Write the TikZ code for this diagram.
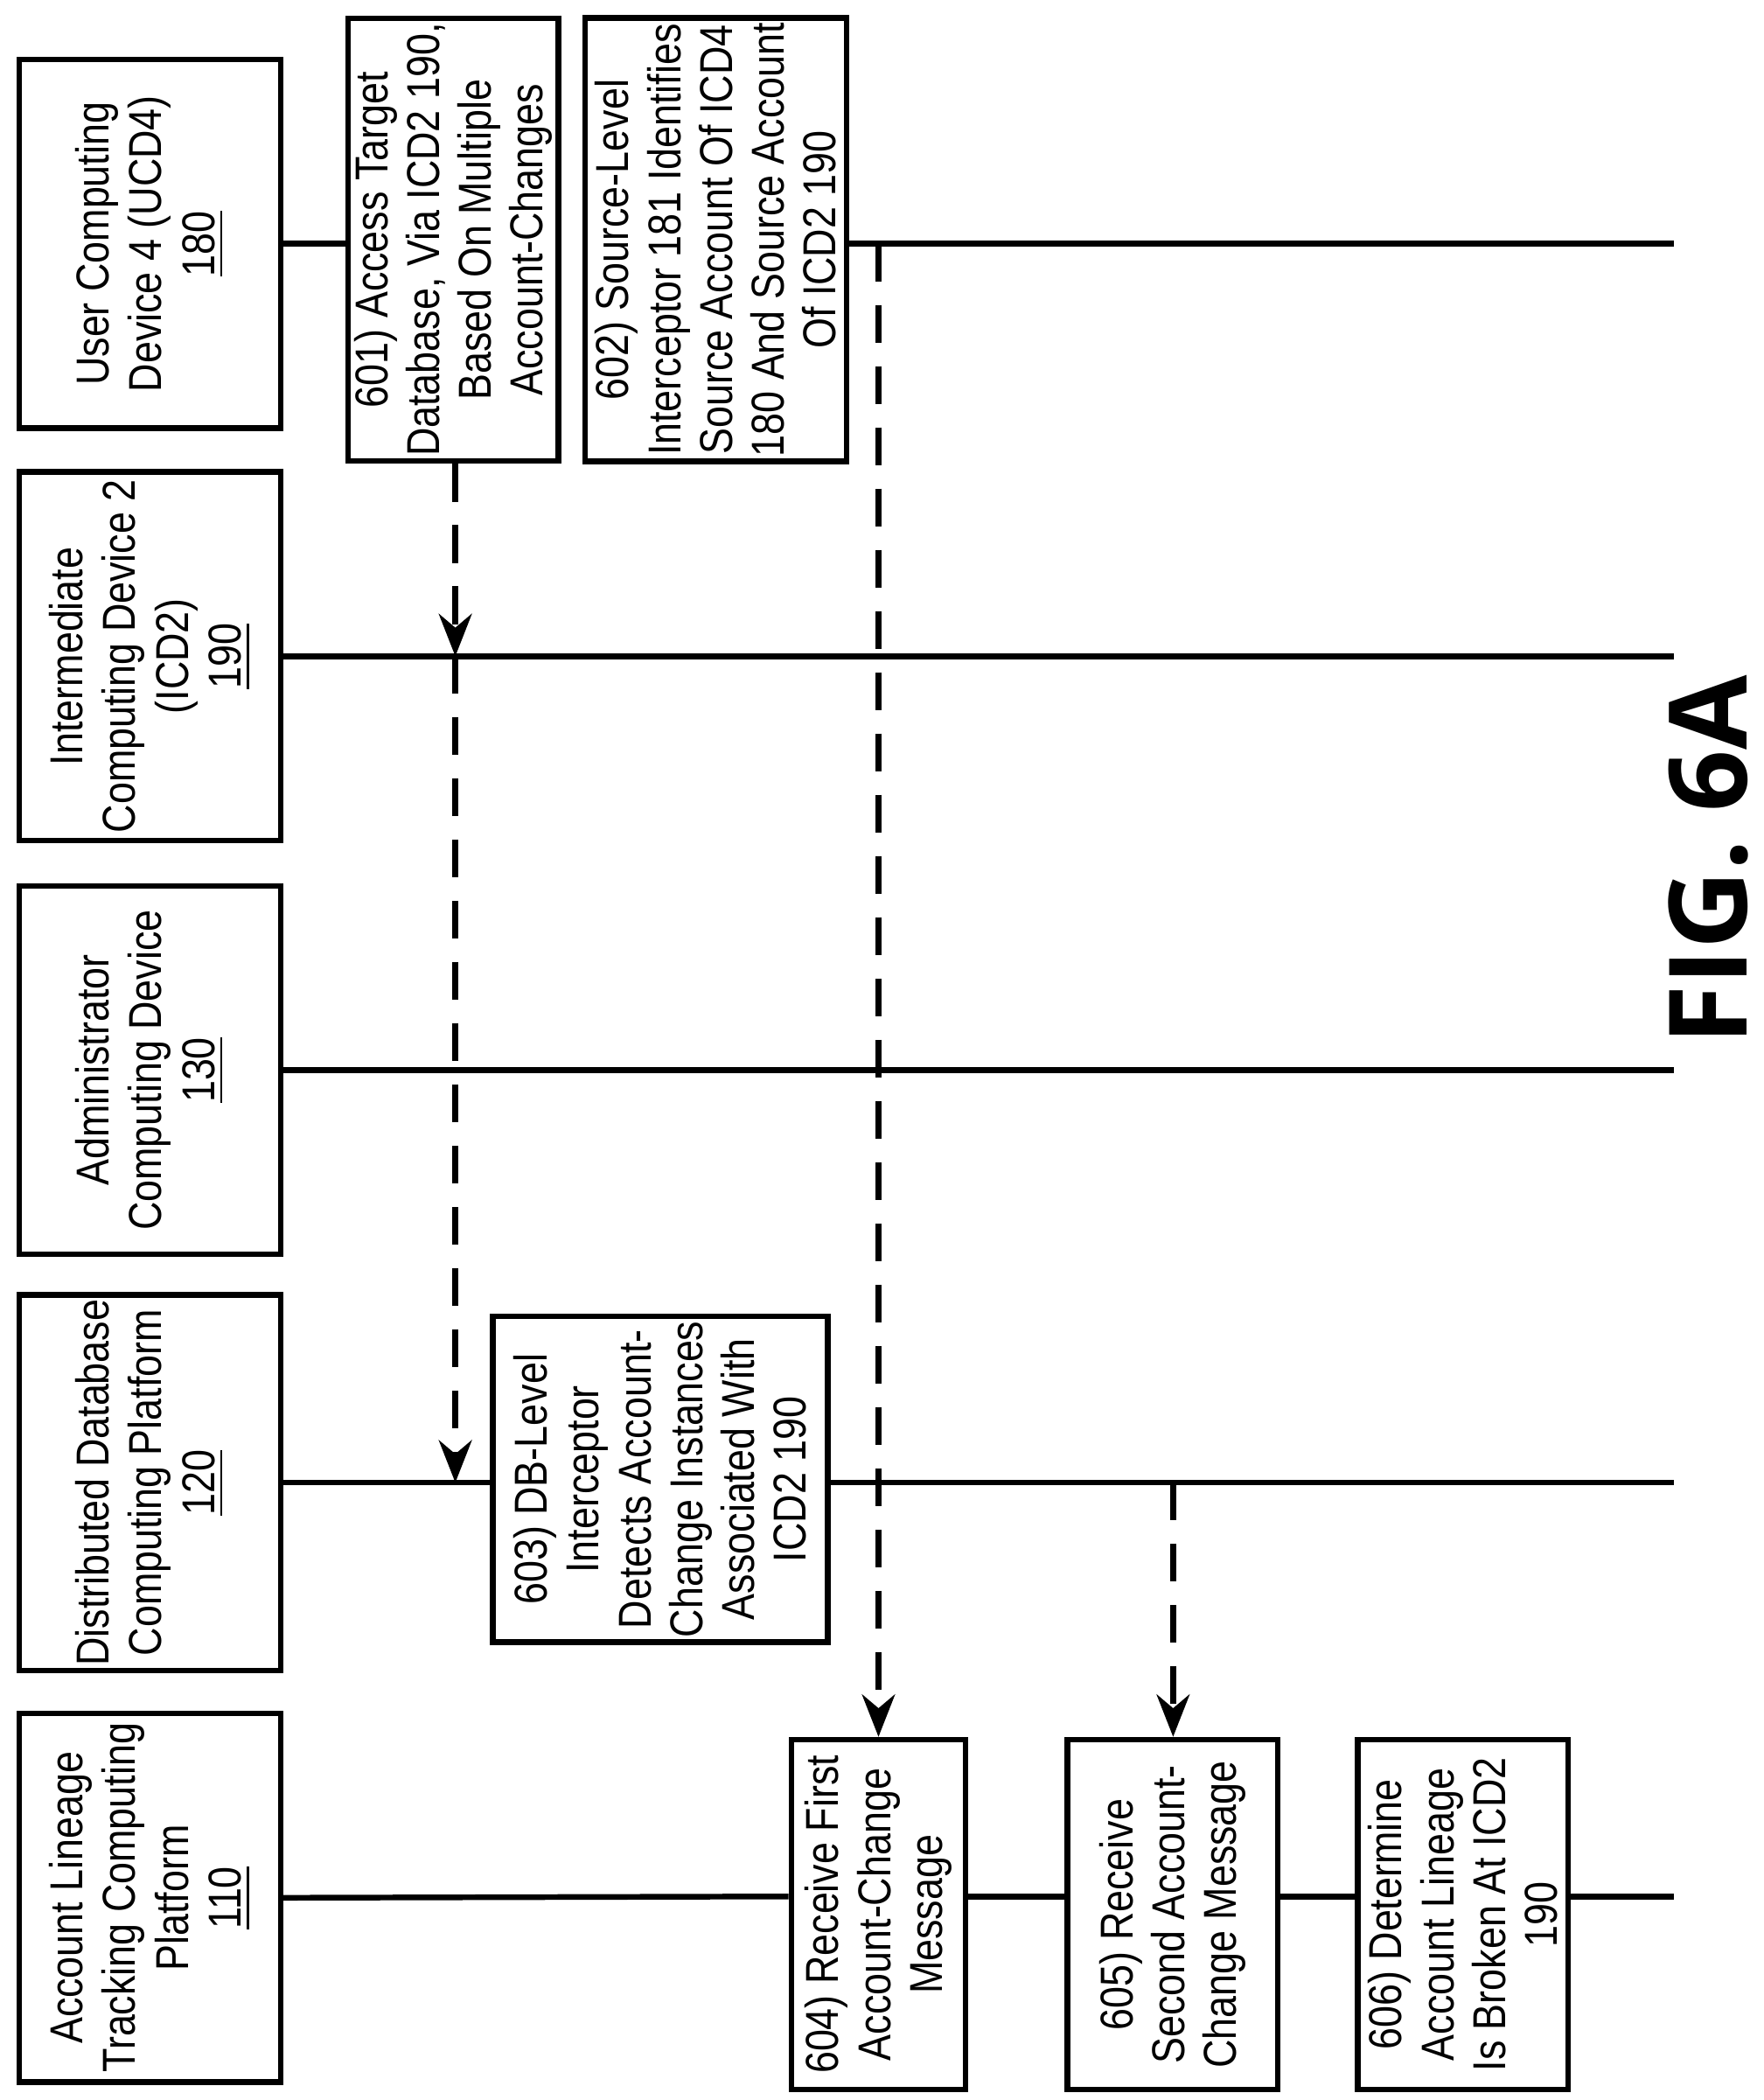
\documentclass[tikz,border=0pt]{standalone}
\usepackage{fontspec}
\setmainfont{Liberation Sans}[FakeStretch=0.85]
\newfontfamily\figfont{Open Sans}
\usetikzlibrary{arrows.meta}
\tikzset{
  dev/.style={draw, line width=1.2pt, rotate=90, minimum width=2.75cm, minimum height=1.95cm, inner sep=1pt, align=center, font=\fontsize{9.8}{11.2}\selectfont},
  stepbox/.style={draw, line width=1.2pt, rotate=90, inner sep=1pt, align=center, font=\fontsize{9.8}{11}\selectfont},
  life/.style={line width=1.2pt},
  msg/.style={line width=1.2pt, dash pattern=on 8pt off 5pt, -{Stealth[length=9pt,width=7pt]}}
}
\begin{document}
\begin{tikzpicture}[x=0.01cm, y=-0.01cm]
\useasboundingbox (0,0) rectangle (1317,1568);
% devices
\node[dev] (ucd) at (112,182) {User Computing\\Device 4 (UCD4)\\\underline{180}};
\node[dev] (icd) at (112,490) {Intermediate\\Computing Device 2\\(ICD2)\\\underline{190}};
\node[dev] (adm) at (112,799) {Administrator\\Computing Device\\\underline{130}};
\node[dev] (ddb) at (112,1107) {Distributed Database\\Computing Platform\\\underline{120}};
\node[dev] (alt) at (112,1417) {Account Lineage\\Tracking Computing\\Platform\\\underline{110}};
% steps
\node[stepbox, minimum width=3.28cm, minimum height=1.57cm] (s601) at (338.5,179) {601) Access Target\\Database, Via ICD2 190,\\Based On Multiple\\Account-Changes};
\node[stepbox, minimum width=3.28cm, minimum height=1.95cm] (s602) at (534.5,179) {602) Source-Level\\Interceptor 181 Identifies\\Source Account Of ICD4\\180 And Source Account\\Of ICD2 190};
\node[stepbox, minimum width=2.35cm, minimum height=2.5cm] (s603) at (493,1104.5) {603) DB-Level\\Interceptor\\Detects Account-\\Change Instances\\Associated With\\ICD2 190};
\node[stepbox, minimum width=2.61cm, minimum height=1.3cm] (s604) at (656,1429.5) {604) Receive First\\Account-Change\\Message};
\node[stepbox, minimum width=2.61cm, minimum height=1.57cm] (s605) at (875.5,1429.5) {605) Receive\\Second Account-\\Change Message};
\node[stepbox, minimum width=2.61cm, minimum height=1.57cm] (s606) at (1092.5,1429.5) {606) Determine\\Account Lineage\\Is Broken At ICD2\\190};
% lifeline ends
\coordinate (eu) at (1250,182);
\coordinate (ei) at (1250,490);
\coordinate (ea) at (1250,799);
\coordinate (ed) at (1250,1107);
\coordinate (ea2) at (1250,1416);
\coordinate (m1) at (340,490);
\coordinate (m2) at (340,1107);
\coordinate (m3) at (656,182);
\coordinate (m4) at (876,1107);
\draw[life] (ucd.south) -- (s601.north |- ucd.south);
\draw[life] (s602.south |- eu) -- (eu);
\draw[life] (icd.south) -- (ei);
\draw[life] (adm.south) -- (ea);
\draw[life] (ddb.south) -- (s603.north |- ddb.south);
\draw[life] (s603.south |- ed) -- (ed);
\draw[life] (alt.south) -- (s604.north |- ea2);
\draw[life] (s604.south |- ea2) -- (s605.north |- ea2);
\draw[life] (s605.south |- ea2) -- (s606.north |- ea2);
\draw[life] (s606.south |- ea2) -- (ea2);
% messages
\draw[msg] (m1 |- s601.west) -- (m1);
\draw[msg] (m1) -- (m2);
\draw[msg] (m3) -- (m3 |- s604.east);
\draw[msg] (m4) -- (m4 |- s605.east);
\node[rotate=90, font=\fontsize{23}{27}\figfont\bfseries\selectfont] (fig) at (1276,642) {FIG. 6A};
\end{tikzpicture}
\end{document}
